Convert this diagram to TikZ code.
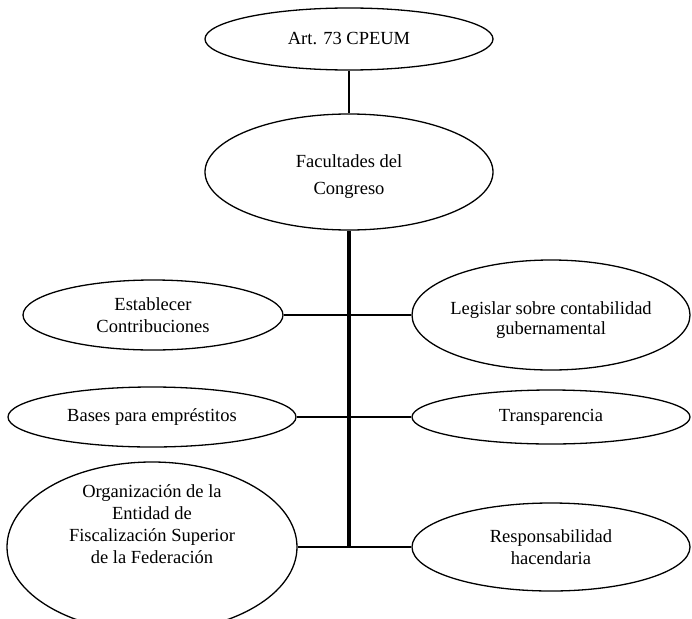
\documentclass[tikz,border=0pt]{standalone}
\usepackage{fontspec}
\setmainfont{Liberation Serif}
\usetikzlibrary{shapes.geometric}
\begin{document}
\begin{tikzpicture}[x=1pt,y=-1pt,
  oval/.style={ellipse,draw,line width=1.3pt,inner sep=0pt,align=center,
    font=\fontsize{18.5}{22.5}\selectfont},
  caption/.style={align=center,inner sep=0pt,font=\fontsize{18.5}{22}\selectfont},
  link/.style={line width=1.3pt},
  spine/.style={line width=3.6pt}]
\useasboundingbox (0,0) rectangle (692,618);
\fill[white] (0,0) rectangle (692,618);

\node[oval,minimum width=288pt,minimum height=62pt] (art) at (349,39) {Art. 73 CPEUM};
\node[oval,minimum width=288pt,minimum height=116pt] (fac) at (349,172) {};
\node[caption,font=\fontsize{18.5}{27}\selectfont] (factext) at (349,177) {Facultades del\\Congreso};

\node[oval,minimum width=260pt,minimum height=70pt] (est) at (153,315) {Establecer\\Contribuciones};
\node[oval,minimum width=278pt,minimum height=110pt] (leg) at (551,315) {};
\node[caption,font=\fontsize{18.5}{20}\selectfont] (legtext) at (551,320) {Legislar sobre contabilidad\\gubernamental};

\node[oval,minimum width=288pt,minimum height=60pt] (bas) at (152,417) {Bases para empréstitos};
\node[oval,minimum width=278pt,minimum height=54pt] (tra) at (551,417) {Transparencia};

\node[oval,minimum width=290pt,minimum height=170pt] (org) at (152,547) {};
\node[caption] (orgtext) at (152,524)
  {Organización de la\\Entidad de\\Fiscalización Superior\\de la Federación};
\node[oval,minimum width=278pt,minimum height=88pt] (res) at (551,547) {Responsabilidad\\hacendaria};

\coordinate (bottom) at (349,547);

\draw[link] (art.south) -- (fac.north);
\draw[spine] (fac.south) -- (bottom);
\draw[link] (est.east) -- (leg.west);
\draw[link] (bas.east) -- (tra.west);
\draw[link] (org.east) -- (res.west);
\end{tikzpicture}
\end{document}
